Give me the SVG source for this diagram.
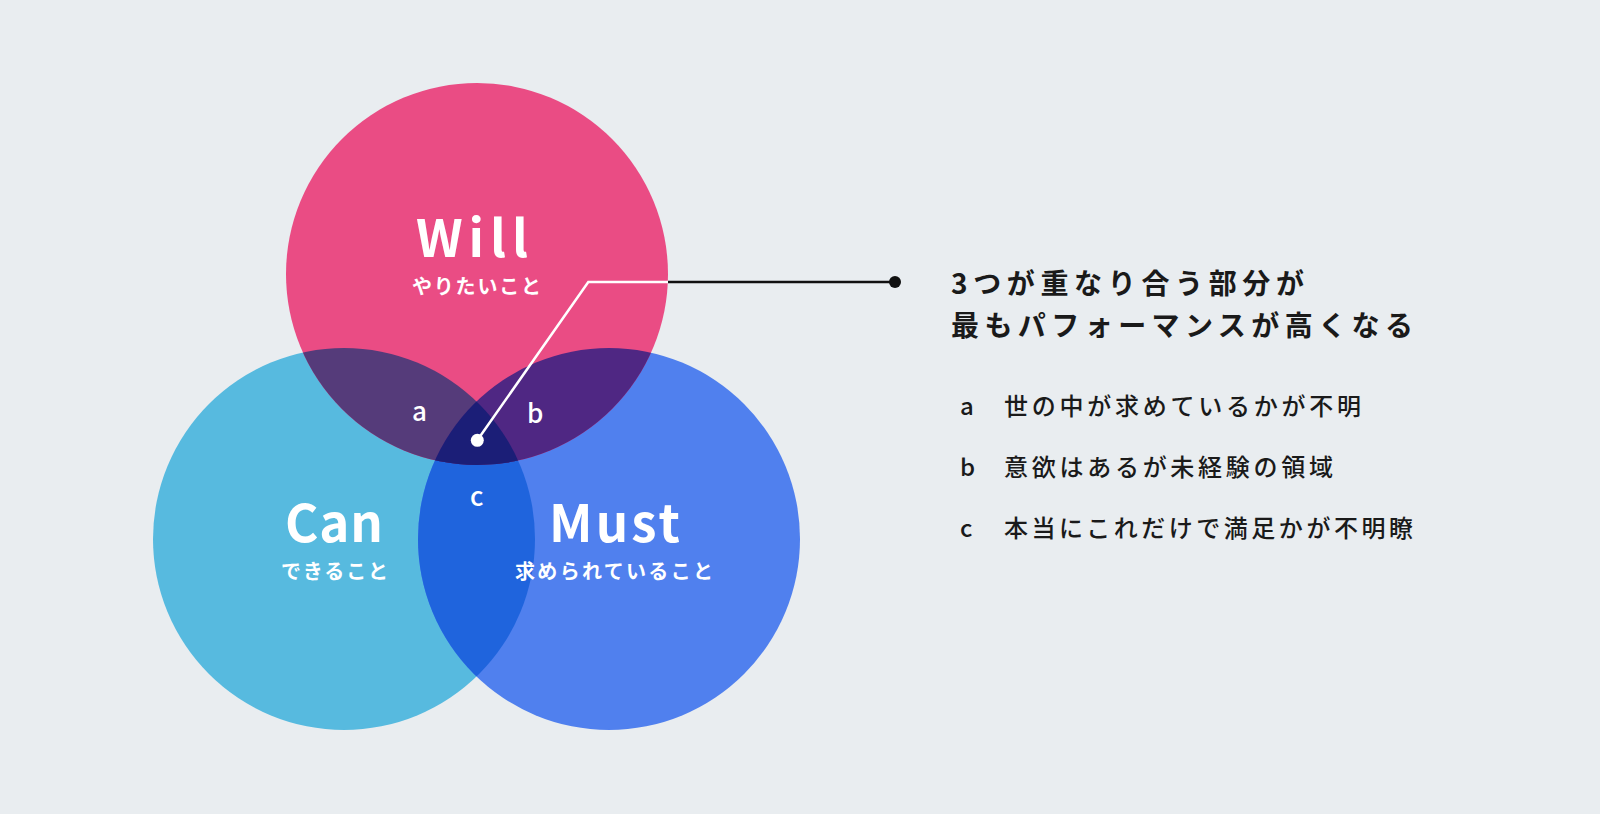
<svg xmlns="http://www.w3.org/2000/svg" width="1600" height="814" viewBox="0 0 1600 814">
  <style>
    .jp { font-family: "Noto Sans CJK JP", "Noto Sans", sans-serif; }
    .title { font-size: 51px; font-weight: 700; fill: #ffffff; }
    .sub { font-size: 20px; font-weight: 700; fill: #ffffff; }
    .zone { font-size: 26px; font-weight: 500; fill: #ffffff; }
    .head { font-size: 28px; font-weight: 700; fill: #1a1a1a; }
    .item { font-size: 24px; font-weight: 500; fill: #1a1a1a; }
  </style>
  <defs>
    <clipPath id="clipCan"><circle cx="344" cy="539" r="191"/></clipPath>
    <clipPath id="clipMust"><circle cx="609" cy="539" r="191"/></clipPath>
  </defs>
  <rect width="1600" height="814" fill="#E9EDF0"/>

  <g id="node-can">
    <circle cx="344" cy="539" r="191" fill="#57BADF"/>
  </g>
  <g id="node-must">
    <circle cx="609" cy="539" r="191" fill="#5080EE"/>
  </g>
  <g id="node-will">
    <circle cx="477" cy="274" r="191" fill="#EA4C84"/>
  </g>

  <g id="overlaps">
    <circle cx="609" cy="539" r="191" fill="#1F64DD" clip-path="url(#clipCan)"/>
    <circle cx="477" cy="274" r="191" fill="#553B7A" clip-path="url(#clipCan)"/>
    <circle cx="477" cy="274" r="191" fill="#4F2783" clip-path="url(#clipMust)"/>
    <g clip-path="url(#clipCan)">
      <circle cx="477" cy="274" r="191" fill="#1B1E77" clip-path="url(#clipMust)"/>
    </g>
  </g>

  <g id="labels" class="jp">
    <text class="title" x="416" y="257" textLength="112" lengthAdjust="spacing">Will</text>
    <text class="sub" x="412" y="294" textLength="129" lengthAdjust="spacing">やりたいこと</text>
    <text class="title" x="285" y="542" textLength="98" lengthAdjust="spacing">Can</text>
    <text class="sub" x="281" y="579" textLength="107" lengthAdjust="spacing">できること</text>
    <text class="title" x="549" y="542" textLength="131" lengthAdjust="spacing">Must</text>
    <text class="sub" x="515" y="579" textLength="198" lengthAdjust="spacing">求められていること</text>
    <text class="zone" x="412" y="421">a</text>
    <text class="zone" x="527" y="423">b</text>
    <text class="zone" x="470" y="506">c</text>
  </g>

  <g id="connectors">
    <polyline points="477.3,440.3 588.3,282 668,282" fill="none" stroke="#ffffff" stroke-width="2.5"/>
    <circle cx="477.3" cy="440.3" r="6.5" fill="#ffffff"/>
    <line x1="668" y1="282" x2="895" y2="282" stroke="#111111" stroke-width="2.5"/>
    <circle cx="895" cy="282" r="6" fill="#111111"/>
  </g>

  <g id="callout" class="jp">
    <text class="head" x="951" y="294" textLength="353" lengthAdjust="spacing">3つが重なり合う部分が</text>
    <text class="head" x="951" y="336" textLength="462" lengthAdjust="spacing">最もパフォーマンスが高くなる</text>
    <text class="item" x="960" y="415">a</text>
    <text class="item" x="1004" y="415" textLength="357" lengthAdjust="spacing">世の中が求めているかが不明</text>
    <text class="item" x="960" y="476">b</text>
    <text class="item" x="1004" y="476" textLength="329" lengthAdjust="spacing">意欲はあるが未経験の領域</text>
    <text class="item" x="960" y="537">c</text>
    <text class="item" x="1004" y="537" textLength="409" lengthAdjust="spacing">本当にこれだけで満足かが不明瞭</text>
  </g>
</svg>
